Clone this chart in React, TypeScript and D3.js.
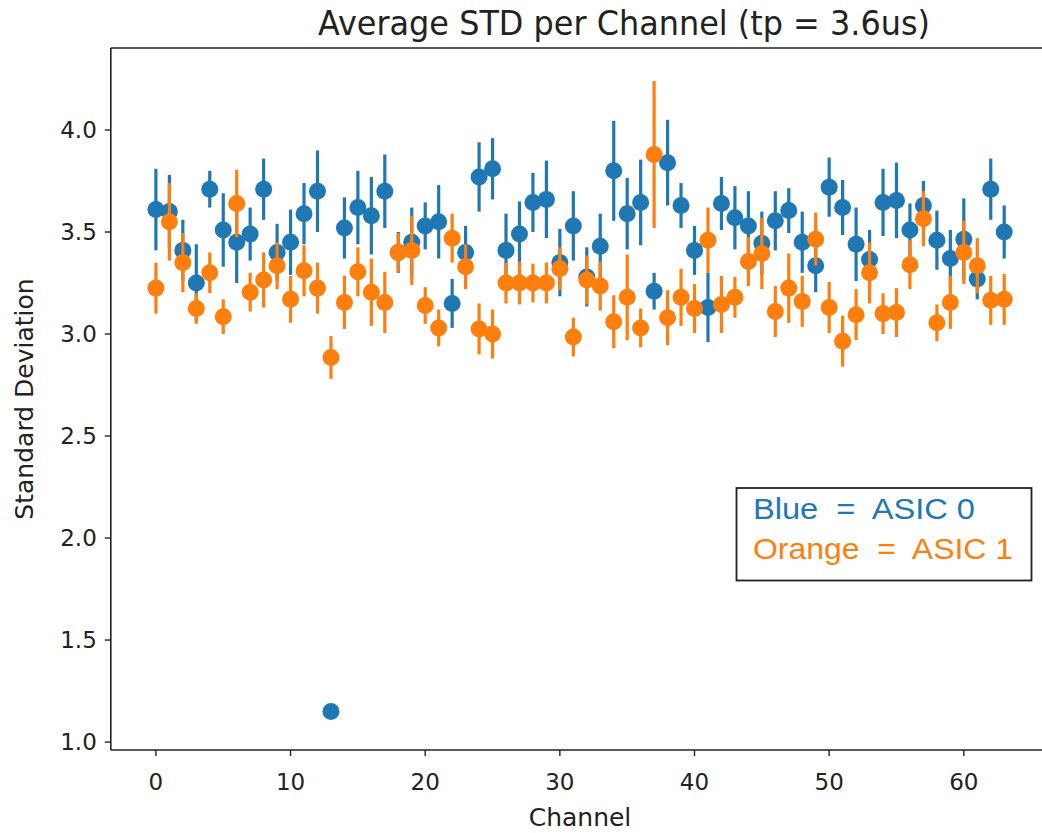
import React from "react";
import * as d3 from "d3";

const channels: number[] = Array.from({ length: 64 }, (_, i) => i);

const blueMean: number[] = [
  3.61, 3.60, 3.41, 3.25, 3.71, 3.51, 3.45, 3.49, 3.71, 3.40,
  3.45, 3.59, 3.70, 1.15, 3.52, 3.62, 3.58, 3.70, 3.40, 3.45,
  3.53, 3.55, 3.15, 3.40, 3.77, 3.81, 3.41, 3.49, 3.645, 3.66,
  3.35, 3.53, 3.28, 3.43, 3.80, 3.59, 3.645, 3.21, 3.84, 3.63,
  3.41, 3.13, 3.64, 3.57, 3.53, 3.445, 3.555, 3.605, 3.45, 3.335,
  3.72, 3.62, 3.44, 3.365, 3.645, 3.655, 3.51, 3.63, 3.46, 3.37,
  3.465, 3.27, 3.71, 3.50,
];
const blueErr: number[] = [
  0.20, 0.18, 0.15, 0.19, 0.09, 0.18, 0.20, 0.13, 0.15, 0.14,
  0.16, 0.15, 0.20, 0.0, 0.15, 0.18, 0.19, 0.18, 0.10, 0.17,
  0.115, 0.18, 0.12, 0.13, 0.17, 0.15, 0.18, 0.16, 0.145, 0.19,
  0.165, 0.17, 0.145, 0.16, 0.245, 0.175, 0.21, 0.09, 0.21, 0.11,
  0.12, 0.17, 0.13, 0.155, 0.17, 0.155, 0.145, 0.11, 0.15, 0.13,
  0.145, 0.135, 0.18, 0.145, 0.165, 0.185, 0.13, 0.12, 0.145, 0.14,
  0.20, 0.10, 0.15, 0.13,
];
const orangeMean: number[] = [
  3.225, 3.55, 3.35, 3.125, 3.30, 3.085, 3.64, 3.205, 3.265, 3.335,
  3.17, 3.31, 3.225, 2.885, 3.155, 3.305, 3.205, 3.155, 3.40, 3.41,
  3.14, 3.03, 3.47, 3.33, 3.025, 3.00, 3.25, 3.25, 3.25, 3.25,
  3.32, 2.985, 3.265, 3.235, 3.06, 3.18, 3.03, 3.88, 3.08, 3.18,
  3.125, 3.46, 3.145, 3.18, 3.355, 3.395, 3.11, 3.225, 3.16, 3.465,
  3.13, 2.965, 3.095, 3.30, 3.10, 3.105, 3.34, 3.565, 3.055, 3.155,
  3.40, 3.335, 3.165, 3.17,
];
const orangeErr: number[] = [
  0.125, 0.19, 0.145, 0.075, 0.10, 0.085, 0.165, 0.095, 0.135, 0.115,
  0.115, 0.125, 0.125, 0.105, 0.13, 0.12, 0.165, 0.15, 0.095, 0.17,
  0.09, 0.09, 0.12, 0.11, 0.125, 0.12, 0.10, 0.105, 0.095, 0.10,
  0.105, 0.095, 0.12, 0.12, 0.13, 0.21, 0.095, 0.36, 0.135, 0.14,
  0.12, 0.16, 0.14, 0.10, 0.12, 0.175, 0.125, 0.17, 0.125, 0.13,
  0.125, 0.125, 0.125, 0.15, 0.10, 0.12, 0.12, 0.135, 0.09, 0.13,
  0.155, 0.135, 0.12, 0.125,
];

const xTicks: number[] = [0, 10, 20, 30, 40, 50, 60];
const yTicks: number[] = [1.0, 1.5, 2.0, 2.5, 3.0, 3.5, 4.0];

const series = [
  { name: "ASIC 0", mean: blueMean, err: blueErr, color: "#1f77b4" },
  { name: "ASIC 1", mean: orangeMean, err: orangeErr, color: "#ff7f0e" },
];

export default function App() {
  const W = 1042;
  const H = 833;
  const left = 110.8;
  const top = 48;
  const bottom = 750;
  const pxPerCh = 13.465;
  const x = d3.scaleLinear().domain([-3.35, 66.35]).range([left, left + 69.7 * pxPerCh]);
  const y = d3.scaleLinear().domain([0.961, 4.402]).range([bottom, top]);
  const right = x(66.35);
  const font = "'DejaVu Sans', sans-serif";
  const legendFont = "'Liberation Sans', Arial, sans-serif";

  return (
    <svg width={W} height={H} style={{ position: "absolute", left: 0, top: 0, background: "#fff" }}>
      <rect x={0} y={0} width={W} height={H} fill="#fff" />
      {series.map((s) => (
        <g key={s.name}>
          {channels.map((c) =>
            s.err[c] > 0 ? (
              <line
                key={"e" + c}
                x1={x(c)}
                x2={x(c)}
                y1={y(s.mean[c] - s.err[c])}
                y2={y(s.mean[c] + s.err[c])}
                stroke={s.color}
                strokeWidth={3.2}
              />
            ) : null
          )}
          {channels.map((c) => (
            <circle key={"m" + c} cx={x(c)} cy={y(s.mean[c])} r={8.5} fill={s.color} />
          ))}
        </g>
      ))}
      <line x1={left} x2={left} y1={top} y2={bottom} stroke="#222" strokeWidth={1.6} />
      <line x1={left} x2={right} y1={bottom} y2={bottom} stroke="#222" strokeWidth={1.6} />
      <line x1={left} x2={right} y1={top} y2={top} stroke="#222" strokeWidth={1.6} />
      <line x1={right} x2={right} y1={top} y2={bottom} stroke="#222" strokeWidth={1.6} />
      {yTicks.map((t) => (
        <g key={"y" + t}>
          <line x1={left - 6} x2={left} y1={y(t)} y2={y(t)} stroke="#222" strokeWidth={1.4} />
          <text
            x={left - 14}
            y={y(t)}
            textAnchor="end"
            dominantBaseline="central"
            fontFamily={font}
            fontSize={23}
            fill="#222"
          >
            {t.toFixed(1)}
          </text>
        </g>
      ))}
      {xTicks.map((t) => (
        <g key={"x" + t}>
          <line x1={x(t)} x2={x(t)} y1={bottom} y2={bottom + 6} stroke="#222" strokeWidth={1.4} />
          <text x={x(t)} y={790} textAnchor="middle" fontFamily={font} fontSize={23} fill="#222">
            {t}
          </text>
        </g>
      ))}
      <text x={580} y={826} textAnchor="middle" fontFamily={font} fontSize={25} fill="#222">
        Channel
      </text>
      <text
        transform={`translate(33, ${(top + bottom) / 2}) rotate(-90)`}
        textAnchor="middle"
        fontFamily={font}
        fontSize={25}
        fill="#222"
      >
        Standard Deviation
      </text>
      <text
        x={318}
        y={35}
        fontFamily={font}
        fontSize={33}
        fill="#222"
        textLength={612}
        lengthAdjust="spacingAndGlyphs"
      >
        Average STD per Channel (tp = 3.6us)
      </text>
      <rect x={736.5} y={488} width={295} height={92.5} fill="#fff" stroke="#222" strokeWidth={1.8} />
      <text
        x={753}
        y={519}
        fontFamily={legendFont}
        fontSize={30}
        fill="#1f77b4"
        textLength={222}
        lengthAdjust="spacingAndGlyphs"
        style={{ whiteSpace: "pre" }}
      >
        {"Blue  =  ASIC 0"}
      </text>
      <text
        x={753}
        y={559}
        fontFamily={legendFont}
        fontSize={30}
        fill="#ff7f0e"
        textLength={260}
        lengthAdjust="spacingAndGlyphs"
        style={{ whiteSpace: "pre" }}
      >
        {"Orange  =  ASIC 1"}
      </text>
    </svg>
  );
}
